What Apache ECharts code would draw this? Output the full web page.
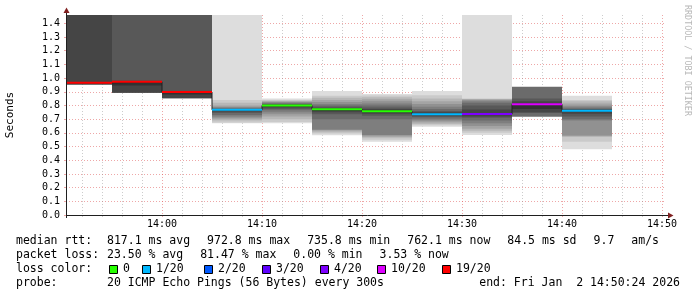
<!DOCTYPE html>
<html><head><meta charset="utf-8">
<script src="https://cdn.jsdelivr.net/npm/echarts@6/dist/echarts.min.js"></script>
<style>html,body{margin:0;padding:0;background:#fff}#c{width:697px;height:297px}</style>
</head><body><div id="c"></div><script>
// ---- data ----
const startLabel = '13:50:24';
const endLabel = '14:50:24';
const stepEnds = ['13:55','14:00','14:05','14:10','14:15','14:20','14:25','14:30','14:35','14:40','14:45'];
const medians = [0.965, 0.9728, 0.898, 0.768, 0.80, 0.772, 0.757, 0.7358, 0.737, 0.808, 0.7621];
const lossCounts = [19, 19, 19, 1, 0, 0, 0, 1, 4, 10, 1];
const N = null, OFF = 1.6; // lost ping / ping above the chart top
const pings = [
  [N,N,N,N,N,N,N,N, 0.952,0.965,0.97,OFF, N,N,N,N,N,N,N,N],
  [N,N,N,N,N,N,N, 0.893,0.893,0.945,0.975,0.98,OFF, N,N,N,N,N,N,N],
  [N,N,N,N,N,N,N, 0.852,0.852,0.88,0.90,0.905,OFF, N,N,N,N,N,N,N],
  [0.67,0.675,0.69,0.70,0.71,0.72,0.73,0.745,0.755,0.765,0.77,0.772,0.775,0.78,0.785,0.79,0.80,0.82,0.84,OFF],
  [0.67,0.68,0.70,0.72,0.735,0.75,0.765,0.775,0.785,0.79,0.80,0.805,0.81,0.815,0.82,0.825,0.83,0.835,0.84,0.85],
  [0.582,0.595,0.605,0.615,0.62,0.625,0.70,0.735,0.75,0.76,0.775,0.78,0.79,0.80,0.81,0.825,0.84,0.857,0.87,0.906],
  [0.535,0.55,0.565,0.572,0.58,0.585,0.70,0.725,0.74,0.75,0.765,0.775,0.785,0.80,0.815,0.83,0.845,0.86,0.872,0.884],
  [0.645,0.655,0.665,0.675,0.685,0.695,0.705,0.715,0.725,0.73,0.74,0.75,0.76,0.775,0.79,0.81,0.83,0.85,0.875,0.906],
  [0.584,0.60,0.615,0.63,0.65,0.67,0.69,0.71,0.72,0.73,0.745,0.77,0.80,0.82,0.83,0.84,0.845,0.848,0.85,OFF],
  [N,N,N,N,N,N, 0.718,0.745,0.75,0.775,0.815,0.83,0.85,0.937, N,N,N,N,N,N],
  [0.48,0.535,0.572,0.575,0.58,0.69,0.70,0.72,0.74,0.755,0.765,0.77,0.775,0.78,0.79,0.80,0.815,0.83,0.84,0.871]
];
const lossLevels = [0, 1, 2, 3, 4, 10, 19];
const lossColors = ['#26ff00','#00b8ff','#0059ff','#5e00ff','#7e00ff','#dd00ff','#ff0000'];
const yTicks = [0,0.1,0.2,0.3,0.4,0.5,0.6,0.7,0.8,0.9,1.0,1.1,1.2,1.3,1.4];
const xMajorTicks = ['14:00','14:10','14:20','14:30','14:40','14:50'];
const yMax = 1.4606;
const rttLabel = 'median rtt:';
const rttStats = ['817.1 ms avg','972.8 ms max','735.8 ms min','762.1 ms now','84.5 ms sd','9.7','am/s'];
const lossLabel = 'packet loss:';
const lossStats = ['23.50 % avg','81.47 % max','0.00 % min','3.53 % now'];
const colorLabel = 'loss color:';
const probeLabel = 'probe:';
const probeText = '20 ICMP Echo Pings (56 Bytes) every 300s';
const endText = 'end: Fri Jan  2 14:50:24 2026';
const watermark = 'RRDTOOL / TOBI OETIKER';

// ---- build ----
const sec = s => { const p = s.split(':').map(Number); return p[0]*3600 + p[1]*60 + (p[2]||0); };
const tStart = sec(startLabel), tEnd = sec(endLabel);
const edges = [tStart].concat(stepEnds.map(sec));
const half = 10;
const gray = p => { const c = Math.floor(190/half*(half-p))+50; const h = c.toString(16).padStart(2,'0'); return '#'+h+h+h; };
const smokeData = [];
pings.forEach((row, k) => {
  for (let p = 0; p < half; p++) {
    const lo = row[p], hi = row[row.length-1-p];
    if (lo == null || hi == null) continue;
    smokeData.push([edges[k], edges[k+1], lo, Math.min(hi, yMax), p+1]);
  }
});
const lossIdx = l => { let i = 0; lossLevels.forEach((v, j) => { if (l >= v) i = j; }); return i; };
const medLine = [];
const medSeg = [];
medians.forEach((m, k) => {
  medLine.push([edges[k], m], [edges[k+1], m]);
  medSeg.push([edges[k], edges[k+1], m, lossIdx(lossCounts[k])]);
});
const minorTicks = [];
for (let t = Math.ceil(tStart/120)*120; t <= tEnd; t += 120) if (t % 600 !== 0) minorTicks.push(t);
const majorTicks = xMajorTicks.map(sec);
const hhmm = v => { const h = Math.floor(v/3600), m = Math.round((v%3600)/60); return h + ':' + String(m).padStart(2,'0'); };

const MONO = 'DejaVu Sans Mono';
const FS = 11.5, ADV = FS*0.602, GAP = 17;
const gridCol = 'rgba(222,79,79,0.5)', minorCol = 'rgba(143,143,143,0.45)';
const graphics = [];
const txt = (x, y, s, extra) => graphics.push(Object.assign({type:'text', x, y, style:{text:s, font: FS+'px "'+MONO+'"', fill:'#000', textVerticalAlign:'middle'}}, extra||{}));
const rows = [241, 255.5, 269, 283.5];
const col1 = 16, col2 = 107;
txt(col1, rows[0], rttLabel);
let x = col2; rttStats.forEach(s => { txt(x, rows[0], s); x += s.length*ADV + GAP; });
txt(col1, rows[1], lossLabel);
x = col2; lossStats.forEach(s => { txt(x, rows[1], s); x += s.length*ADV + GAP; });
txt(col1, rows[2], colorLabel);
const sqX = [109, 142, 204, 262, 320, 377, 442];
lossLevels.forEach((l, i) => {
  graphics.push({type:'rect', shape:{x:sqX[i]+0.5, y:265.5, width:8, height:8}, style:{fill:lossColors[i], stroke:'#000', lineWidth:1}});
  txt(sqX[i]+14, rows[2], l === 0 ? '0' : l + '/20');
});
txt(col1, rows[3], probeLabel);
txt(col2, rows[3], probeText);
graphics.push({type:'text', x:680, y:rows[3], style:{text:endText, font: FS+'px "'+MONO+'"', fill:'#000', textAlign:'right', textVerticalAlign:'middle'}});
graphics.push({type:'text', x:687, y:5, rotation:-Math.PI/2, style:{text:watermark, font:'8.4px "'+MONO+'"', fill:'#b8b8b8', textAlign:'left', textVerticalAlign:'middle'}});
// axis lines and arrows
graphics.push({type:'line', z:100, shape:{x1:66, y1:215.5, x2:669, y2:215.5}, style:{stroke:'#1f1f1f', lineWidth:1}});
graphics.push({type:'line', z:100, shape:{x1:66.5, y1:218, x2:66.5, y2:12}, style:{stroke:'#1f1f1f', lineWidth:1}});
graphics.push({type:'polygon', z:101, shape:{points:[[668,212.5],[673.5,215.5],[668,218.5]]}, style:{fill:'#7f1f1f'}});
graphics.push({type:'polygon', z:101, shape:{points:[[63.5,13],[66.5,7.5],[69.5,13]]}, style:{fill:'#7f1f1f'}});

const chart = echarts.init(document.getElementById('c'), null, {renderer:'canvas'});
chart.setOption({
  animation: false,
  backgroundColor: '#fff',
  grid: {left:66, top:15, width:600, height:200, containLabel:false, outerBoundsMode:'none'},
  xAxis: [{
    type:'value', min:tStart, max:tEnd, position:'bottom',
    axisLine:{show:false},
    axisTick:{show:true, customValues:minorTicks, length:2, lineStyle:{color:minorCol}},
    axisLabel:{show:false},
    splitLine:{show:true, lineStyle:{color:minorCol, type:[1,2], width:1}}
  },{
    type:'value', min:tStart, max:tEnd, position:'bottom', offset:0,
    axisLine:{show:false},
    axisTick:{show:true, customValues:majorTicks, length:2, lineStyle:{color:gridCol}},
    axisLabel:{show:true, customValues:majorTicks, formatter:hhmm, fontFamily:MONO, fontSize:10, color:'#000', margin:4},
    splitLine:{show:true, lineStyle:{color:gridCol, type:[1,2], width:1}}
  }],
  yAxis: {
    type:'value', min:0, max:yMax,
    name:'Seconds', nameLocation:'middle', nameGap:50, nameRotate:90,
    nameTextStyle:{fontFamily:MONO, fontSize:11, color:'#000'},
    axisLine:{show:false},
    axisTick:{show:true, customValues:yTicks, length:2, lineStyle:{color:gridCol}},
    axisLabel:{customValues:yTicks, formatter:v => v.toFixed(1), fontFamily:MONO, fontSize:10, color:'#000', margin:6},
    splitLine:{show:true, lineStyle:{color:gridCol, type:[1,2], width:1}}
  },
  series: [{
    type:'custom', name:'smoke', xAxisIndex:0, data:smokeData, z:2,
    renderItem:(params, api) => {
      const a = api.coord([api.value(0), api.value(3)]);
      const b = api.coord([api.value(1), api.value(2)]);
      return {type:'rect', shape:{x:a[0], y:a[1], width:b[0]-a[0], height:b[1]-a[1]}, style:{fill:gray(api.value(4))}};
    }
  },{
    type:'line', name:'median', xAxisIndex:0, data:medLine, symbol:'none', z:3,
    lineStyle:{color:'#202020', width:1}
  },{
    type:'custom', name:'loss', xAxisIndex:0, data:medSeg, z:4,
    renderItem:(params, api) => {
      const a = api.coord([api.value(0), api.value(2)]);
      const b = api.coord([api.value(1), api.value(2)]);
      return {type:'line', shape:{x1:a[0], y1:a[1], x2:b[0], y2:b[1]}, style:{stroke:lossColors[api.value(3)], lineWidth:2}};
    }
  }],
  graphic: graphics
});
</script></body></html>
